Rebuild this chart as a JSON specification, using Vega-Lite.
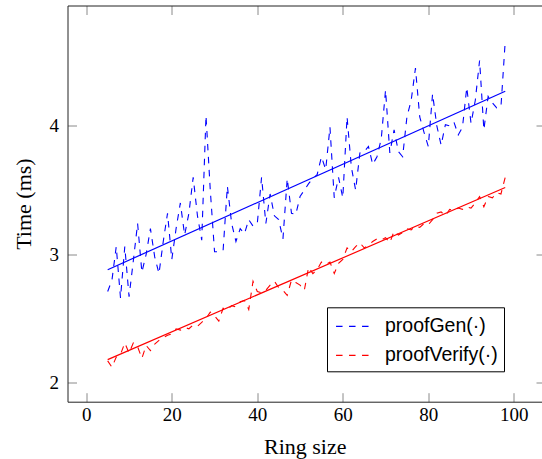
{
  "$schema": "https://vega.github.io/schema/vega-lite/v6.json",
  "width": 474.5,
  "height": 396.2,
  "autosize": {"type": "none"},
  "padding": {"left": 67.5, "top": 5.5, "right": 0, "bottom": 57.3},
  "config": {
    "view": {"stroke": null},
    "axis": {
      "grid": false,
      "domainColor": "#222222",
      "domainWidth": 1,
      "tickColor": "#8a8a8a",
      "tickWidth": 1,
      "labelFont": "Liberation Serif",
      "labelFontSize": 19,
      "labelColor": "black",
      "titleFont": "Liberation Serif",
      "titleFontSize": 22,
      "titleFontWeight": "normal",
      "titleColor": "black"
    }
  },
  "datasets": {
    "raw": [
      {"x":5,"y":2.71,"series":"proofGen(·)"},{"x":6,"y":2.80,"series":"proofGen(·)"},{"x":7,"y":3.06,"series":"proofGen(·)"},{"x":8,"y":2.66,"series":"proofGen(·)"},{"x":9,"y":3.06,"series":"proofGen(·)"},{"x":10,"y":2.67,"series":"proofGen(·)"},{"x":11,"y":2.95,"series":"proofGen(·)"},{"x":12,"y":3.24,"series":"proofGen(·)"},{"x":13,"y":2.86,"series":"proofGen(·)"},{"x":14,"y":3.00,"series":"proofGen(·)"},{"x":15,"y":3.20,"series":"proofGen(·)"},{"x":16,"y":2.98,"series":"proofGen(·)"},{"x":17,"y":2.85,"series":"proofGen(·)"},{"x":18,"y":3.10,"series":"proofGen(·)"},{"x":19,"y":3.32,"series":"proofGen(·)"},{"x":20,"y":2.96,"series":"proofGen(·)"},{"x":21,"y":3.20,"series":"proofGen(·)"},{"x":22,"y":3.40,"series":"proofGen(·)"},{"x":23,"y":3.15,"series":"proofGen(·)"},{"x":24,"y":3.32,"series":"proofGen(·)"},{"x":25,"y":3.60,"series":"proofGen(·)"},{"x":26,"y":3.30,"series":"proofGen(·)"},{"x":27,"y":3.11,"series":"proofGen(·)"},{"x":28,"y":4.08,"series":"proofGen(·)"},{"x":29,"y":3.50,"series":"proofGen(·)"},{"x":30,"y":3.02,"series":"proofGen(·)"},{"x":31,"y":3.02,"series":"proofGen(·)"},{"x":32,"y":3.03,"series":"proofGen(·)"},{"x":33,"y":3.53,"series":"proofGen(·)"},{"x":34,"y":3.24,"series":"proofGen(·)"},{"x":35,"y":3.10,"series":"proofGen(·)"},{"x":36,"y":3.20,"series":"proofGen(·)"},{"x":37,"y":3.16,"series":"proofGen(·)"},{"x":38,"y":3.27,"series":"proofGen(·)"},{"x":39,"y":3.22,"series":"proofGen(·)"},{"x":40,"y":3.24,"series":"proofGen(·)"},{"x":41,"y":3.60,"series":"proofGen(·)"},{"x":42,"y":3.24,"series":"proofGen(·)"},{"x":43,"y":3.47,"series":"proofGen(·)"},{"x":44,"y":3.30,"series":"proofGen(·)"},{"x":45,"y":3.27,"series":"proofGen(·)"},{"x":46,"y":3.12,"series":"proofGen(·)"},{"x":47,"y":3.59,"series":"proofGen(·)"},{"x":48,"y":3.32,"series":"proofGen(·)"},{"x":49,"y":3.31,"series":"proofGen(·)"},{"x":50,"y":3.45,"series":"proofGen(·)"},{"x":51,"y":3.50,"series":"proofGen(·)"},{"x":52,"y":3.55,"series":"proofGen(·)"},{"x":53,"y":3.59,"series":"proofGen(·)"},{"x":54,"y":3.62,"series":"proofGen(·)"},{"x":55,"y":3.76,"series":"proofGen(·)"},{"x":56,"y":3.66,"series":"proofGen(·)"},{"x":57,"y":3.99,"series":"proofGen(·)"},{"x":58,"y":3.44,"series":"proofGen(·)"},{"x":59,"y":3.60,"series":"proofGen(·)"},{"x":60,"y":3.44,"series":"proofGen(·)"},{"x":61,"y":4.07,"series":"proofGen(·)"},{"x":62,"y":3.68,"series":"proofGen(·)"},{"x":63,"y":3.50,"series":"proofGen(·)"},{"x":64,"y":3.79,"series":"proofGen(·)"},{"x":65,"y":3.80,"series":"proofGen(·)"},{"x":66,"y":3.84,"series":"proofGen(·)"},{"x":67,"y":3.70,"series":"proofGen(·)"},{"x":68,"y":3.76,"series":"proofGen(·)"},{"x":69,"y":3.90,"series":"proofGen(·)"},{"x":70,"y":4.28,"series":"proofGen(·)"},{"x":71,"y":3.79,"series":"proofGen(·)"},{"x":72,"y":3.97,"series":"proofGen(·)"},{"x":73,"y":3.80,"series":"proofGen(·)"},{"x":74,"y":3.76,"series":"proofGen(·)"},{"x":75,"y":4.07,"series":"proofGen(·)"},{"x":76,"y":4.20,"series":"proofGen(·)"},{"x":77,"y":4.45,"series":"proofGen(·)"},{"x":78,"y":4.07,"series":"proofGen(·)"},{"x":79,"y":3.95,"series":"proofGen(·)"},{"x":80,"y":3.84,"series":"proofGen(·)"},{"x":81,"y":4.25,"series":"proofGen(·)"},{"x":82,"y":4.00,"series":"proofGen(·)"},{"x":83,"y":3.85,"series":"proofGen(·)"},{"x":84,"y":4.01,"series":"proofGen(·)"},{"x":85,"y":4.00,"series":"proofGen(·)"},{"x":86,"y":4.03,"series":"proofGen(·)"},{"x":87,"y":3.93,"series":"proofGen(·)"},{"x":88,"y":3.99,"series":"proofGen(·)"},{"x":89,"y":4.30,"series":"proofGen(·)"},{"x":90,"y":4.02,"series":"proofGen(·)"},{"x":91,"y":4.20,"series":"proofGen(·)"},{"x":92,"y":4.51,"series":"proofGen(·)"},{"x":93,"y":3.97,"series":"proofGen(·)"},{"x":94,"y":4.23,"series":"proofGen(·)"},{"x":95,"y":4.18,"series":"proofGen(·)"},{"x":96,"y":4.14,"series":"proofGen(·)"},{"x":97,"y":4.15,"series":"proofGen(·)"},{"x":98,"y":4.66,"series":"proofGen(·)"},
      {"x":5,"y":2.17,"series":"proofVerify(·)"},{"x":6,"y":2.12,"series":"proofVerify(·)"},{"x":7,"y":2.20,"series":"proofVerify(·)"},{"x":8,"y":2.22,"series":"proofVerify(·)"},{"x":9,"y":2.31,"series":"proofVerify(·)"},{"x":10,"y":2.23,"series":"proofVerify(·)"},{"x":11,"y":2.31,"series":"proofVerify(·)"},{"x":12,"y":2.28,"series":"proofVerify(·)"},{"x":13,"y":2.19,"series":"proofVerify(·)"},{"x":14,"y":2.29,"series":"proofVerify(·)"},{"x":15,"y":2.25,"series":"proofVerify(·)"},{"x":16,"y":2.30,"series":"proofVerify(·)"},{"x":17,"y":2.33,"series":"proofVerify(·)"},{"x":18,"y":2.35,"series":"proofVerify(·)"},{"x":19,"y":2.37,"series":"proofVerify(·)"},{"x":20,"y":2.38,"series":"proofVerify(·)"},{"x":21,"y":2.42,"series":"proofVerify(·)"},{"x":22,"y":2.41,"series":"proofVerify(·)"},{"x":23,"y":2.43,"series":"proofVerify(·)"},{"x":24,"y":2.42,"series":"proofVerify(·)"},{"x":25,"y":2.45,"series":"proofVerify(·)"},{"x":26,"y":2.44,"series":"proofVerify(·)"},{"x":27,"y":2.47,"series":"proofVerify(·)"},{"x":28,"y":2.50,"series":"proofVerify(·)"},{"x":29,"y":2.55,"series":"proofVerify(·)"},{"x":30,"y":2.52,"series":"proofVerify(·)"},{"x":31,"y":2.48,"series":"proofVerify(·)"},{"x":32,"y":2.58,"series":"proofVerify(·)"},{"x":33,"y":2.57,"series":"proofVerify(·)"},{"x":34,"y":2.60,"series":"proofVerify(·)"},{"x":35,"y":2.59,"series":"proofVerify(·)"},{"x":36,"y":2.63,"series":"proofVerify(·)"},{"x":37,"y":2.64,"series":"proofVerify(·)"},{"x":38,"y":2.57,"series":"proofVerify(·)"},{"x":39,"y":2.79,"series":"proofVerify(·)"},{"x":40,"y":2.71,"series":"proofVerify(·)"},{"x":41,"y":2.70,"series":"proofVerify(·)"},{"x":42,"y":2.72,"series":"proofVerify(·)"},{"x":43,"y":2.76,"series":"proofVerify(·)"},{"x":44,"y":2.79,"series":"proofVerify(·)"},{"x":45,"y":2.74,"series":"proofVerify(·)"},{"x":46,"y":2.72,"series":"proofVerify(·)"},{"x":47,"y":2.68,"series":"proofVerify(·)"},{"x":48,"y":2.80,"series":"proofVerify(·)"},{"x":49,"y":2.78,"series":"proofVerify(·)"},{"x":50,"y":2.76,"series":"proofVerify(·)"},{"x":51,"y":2.72,"series":"proofVerify(·)"},{"x":52,"y":2.90,"series":"proofVerify(·)"},{"x":53,"y":2.85,"series":"proofVerify(·)"},{"x":54,"y":2.88,"series":"proofVerify(·)"},{"x":55,"y":2.94,"series":"proofVerify(·)"},{"x":56,"y":2.92,"series":"proofVerify(·)"},{"x":57,"y":2.94,"series":"proofVerify(·)"},{"x":58,"y":2.85,"series":"proofVerify(·)"},{"x":59,"y":2.93,"series":"proofVerify(·)"},{"x":60,"y":2.96,"series":"proofVerify(·)"},{"x":61,"y":3.05,"series":"proofVerify(·)"},{"x":62,"y":3.02,"series":"proofVerify(·)"},{"x":63,"y":3.06,"series":"proofVerify(·)"},{"x":64,"y":3.09,"series":"proofVerify(·)"},{"x":65,"y":3.05,"series":"proofVerify(·)"},{"x":66,"y":3.07,"series":"proofVerify(·)"},{"x":67,"y":3.10,"series":"proofVerify(·)"},{"x":68,"y":3.12,"series":"proofVerify(·)"},{"x":69,"y":3.11,"series":"proofVerify(·)"},{"x":70,"y":3.13,"series":"proofVerify(·)"},{"x":71,"y":3.09,"series":"proofVerify(·)"},{"x":72,"y":3.18,"series":"proofVerify(·)"},{"x":73,"y":3.15,"series":"proofVerify(·)"},{"x":74,"y":3.17,"series":"proofVerify(·)"},{"x":75,"y":3.20,"series":"proofVerify(·)"},{"x":76,"y":3.19,"series":"proofVerify(·)"},{"x":77,"y":3.22,"series":"proofVerify(·)"},{"x":78,"y":3.21,"series":"proofVerify(·)"},{"x":79,"y":3.24,"series":"proofVerify(·)"},{"x":80,"y":3.23,"series":"proofVerify(·)"},{"x":81,"y":3.27,"series":"proofVerify(·)"},{"x":82,"y":3.32,"series":"proofVerify(·)"},{"x":83,"y":3.33,"series":"proofVerify(·)"},{"x":84,"y":3.30,"series":"proofVerify(·)"},{"x":85,"y":3.35,"series":"proofVerify(·)"},{"x":86,"y":3.34,"series":"proofVerify(·)"},{"x":87,"y":3.36,"series":"proofVerify(·)"},{"x":88,"y":3.35,"series":"proofVerify(·)"},{"x":89,"y":3.37,"series":"proofVerify(·)"},{"x":90,"y":3.36,"series":"proofVerify(·)"},{"x":91,"y":3.40,"series":"proofVerify(·)"},{"x":92,"y":3.45,"series":"proofVerify(·)"},{"x":93,"y":3.37,"series":"proofVerify(·)"},{"x":94,"y":3.45,"series":"proofVerify(·)"},{"x":95,"y":3.44,"series":"proofVerify(·)"},{"x":96,"y":3.48,"series":"proofVerify(·)"},{"x":97,"y":3.47,"series":"proofVerify(·)"},{"x":98,"y":3.60,"series":"proofVerify(·)"}
    ],
    "fit": [
      {"x":5,"y":2.88,"series":"proofGen(·)"},{"x":98,"y":4.27,"series":"proofGen(·)"},
      {"x":5,"y":2.18,"series":"proofVerify(·)"},{"x":98,"y":3.52,"series":"proofVerify(·)"}
    ]
  },
  "layer": [
    {
      "data": {"name": "raw"},
      "mark": {"type": "line", "strokeDash": [6.5, 6.5], "strokeWidth": 1.1},
      "encoding": {
        "x": {
          "field": "x", "type": "quantitative",
          "scale": {"domain": [-4.4, 106.6], "nice": false, "zero": false},
          "axis": {"orient": "bottom", "values": [0, 20, 40, 60, 80, 100], "tickSize": -9, "labelPadding": 13, "title": "Ring size", "titlePadding": 12, "domain": true}
        },
        "y": {
          "field": "y", "type": "quantitative",
          "scale": {"domain": [1.852, 4.938], "nice": false, "zero": false},
          "axis": {"orient": "left", "values": [2, 3, 4], "tickSize": -9, "labelPadding": 18, "title": "Time (ms)", "titlePadding": 14, "domain": true}
        },
        "color": {
          "field": "series", "type": "nominal",
          "scale": {"domain": ["proofGen(·)", "proofVerify(·)"], "range": ["#0000ff", "#ff0000"]},
          "legend": {
            "title": null, "orient": "none", "legendX": 259.5, "legendY": 301.8,
            "strokeColor": "black", "fillColor": "white", "padding": 6,
            "symbolType": "M-0.83,0H2.33", "symbolSize": 576, "symbolStrokeWidth": 1.2,
            "symbolDash": [6.5, 6.5], "symbolOffset": 0,
            "labelFont": "Liberation Sans", "labelFontSize": 19.5, "labelColor": "black",
            "labelOffset": 26, "rowPadding": 6
          }
        }
      }
    },
    {
      "data": {"name": "fit"},
      "mark": {"type": "line", "strokeWidth": 1.2},
      "encoding": {
        "x": {
          "field": "x", "type": "quantitative",
          "scale": {"domain": [-4.4, 106.6], "nice": false, "zero": false},
          "axis": {"orient": "top", "values": [0, 20, 40, 60, 80, 100], "tickSize": -9, "labels": false, "title": null, "domain": true}
        },
        "y": {
          "field": "y", "type": "quantitative",
          "scale": {"domain": [1.852, 4.938], "nice": false, "zero": false},
          "axis": {"orient": "right", "offset": 3, "values": [2, 3, 4], "tickSize": -9, "labels": false, "title": null, "domain": false}
        },
        "color": {"field": "series", "type": "nominal", "legend": null}
      }
    }
  ],
  "resolve": {"axis": {"x": "independent", "y": "independent"}, "legend": {"color": "independent"}}
}
